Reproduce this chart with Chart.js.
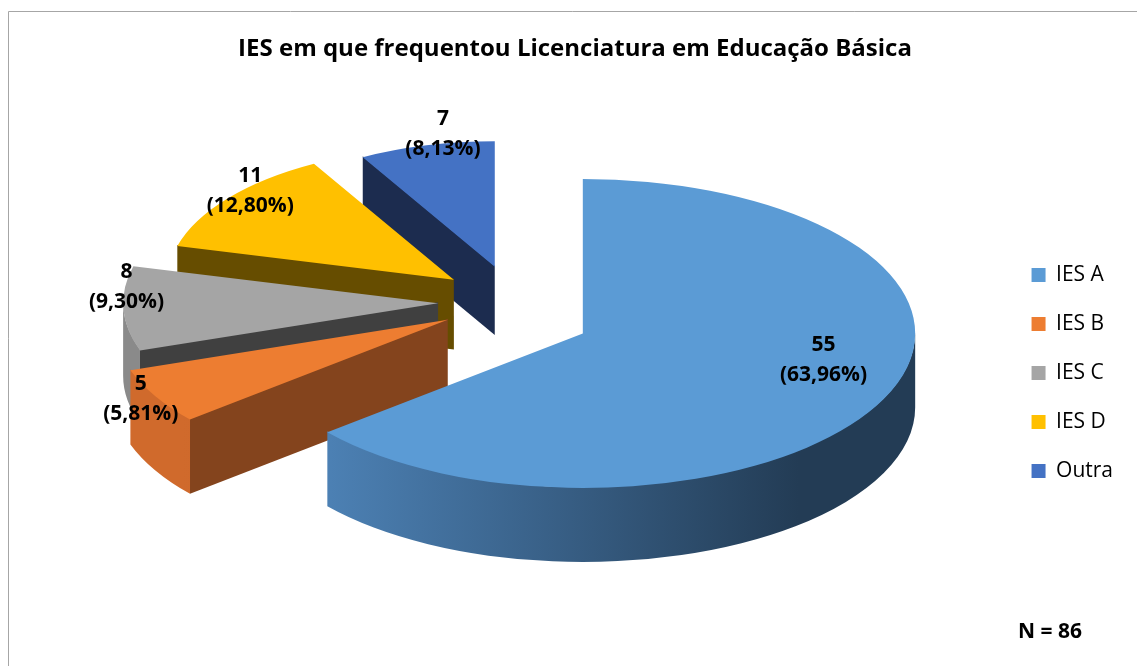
<!DOCTYPE html>
<html><head><meta charset="utf-8">
<script src="https://cdn.jsdelivr.net/npm/chart.js@4.4.0/dist/chart.umd.min.js"></script>
<style>html,body{margin:0;padding:0;background:#fff;}#wrap{width:1137px;height:666px;}</style>
</head><body><div id="wrap"><canvas id="c" width="1137" height="666"></canvas></div>
<script>
// ---- data ----
const categories = ['IES A', 'IES B', 'IES C', 'IES D', 'Outra'];
const counts = [55, 5, 8, 11, 7];
const pctLabels = ['63,96%', '5,81%', '9,30%', '12,80%', '8,13%'];
const titleText = 'IES em que frequentou Licenciatura em Educação Básica';

// ---- style ----
const topColors = ['#5B9BD5', '#ED7D31', '#A5A5A5', '#FFC000', '#4472C4'];
const radialWall = ['#253F5A', '#84441D', '#404040', '#664D00', '#1C2C4F'];
const outerFrom = ['#4D82B6', '#D06A2C', '#8A8A8A', '#D4A000', '#34579A'];
const outerTo = ['#233C55', '#BE5F25', '#6E6E6E', '#A88000', '#223A66'];
const labelDist = [0.8, 1.05, 0.99, 0.9, 0.76];
const labelLift = [-10, -1, -22, -16, -40];
const FONT = '"Open Sans", Lato, sans-serif';
const PIE = {cx: 514, cy: 302, explode: 76, explodeK: 0.48, rx: 333, faceK: 0.465,
  perspRefY: 318, perspRate: 0.0037, depthBase: 44, depthScale: 30, frontDrop: 16};

function frontRanges(s, e) {
  const out = [];
  [[0, Math.PI], [2 * Math.PI, 3 * Math.PI]].forEach(([a, b]) => {
    const lo = Math.max(s, a), hi = Math.min(e, b);
    if (hi - lo > 1e-4) out.push([lo, hi]);
  });
  return out;
}
function pt(it, a, d) { return [it.fx + it.rx * Math.cos(a), it.fy + it.ry * Math.sin(a) + (d || 0)]; }

function drawWalls(ctx, it) {
  const i = it.i;
  const edges = [];
  if (Math.cos(it.startAngle) < -0.02) edges.push(it.startAngle);
  if (Math.cos(it.endAngle) > 0.02) edges.push(it.endAngle);
  edges.forEach(a => {
    const p = pt(it, a, -1), q = pt(it, a, it.depth);
    ctx.beginPath();
    ctx.moveTo(it.fx, it.fy - 1);
    ctx.lineTo(p[0], p[1]);
    ctx.lineTo(q[0], q[1]);
    ctx.lineTo(it.fx, it.fy + it.depth);
    ctx.closePath();
    ctx.fillStyle = radialWall[i];
    ctx.fill();
  });
  frontRanges(it.startAngle, it.endAngle).forEach(([a1, a2]) => {
    const g = ctx.createLinearGradient(it.fx - it.rx * 0.8, 0, it.fx + it.rx * 0.65, 0);
    g.addColorStop(0, outerFrom[i]);
    g.addColorStop(1, outerTo[i]);
    ctx.beginPath();
    ctx.ellipse(it.fx, it.fy - 1, it.rx, it.ry, 0, a1, a2, false);
    ctx.ellipse(it.fx, it.fy + it.depth, it.rx, it.ry, 0, a2, a1, true);
    ctx.closePath();
    ctx.fillStyle = g;
    ctx.fill();
  });
}
function drawTop(ctx, it) {
  ctx.save();
  ctx.translate(it.fx, it.fy);
  const sc = it.rx / it.outerRadius;
  ctx.scale(sc, sc * PIE.faceK);
  ctx.translate(-it.x, -it.y);
  it.arc.draw(ctx);
  ctx.restore();
}

const pie3d = {
  id: 'pie3d',
  beforeDatasetsDraw(chart) {
    const ctx = chart.ctx;
    const meta = chart.getDatasetMeta(0);
    const items = meta.data.map((arc, i) => {
      const p = arc.getProps(['x', 'y', 'startAngle', 'endAngle', 'outerRadius'], true);
      const mid = (p.startAngle + p.endAngle) / 2;
      const ax = PIE.cx + PIE.explode * Math.cos(mid);
      const ay = PIE.cy + PIE.explode * PIE.explodeK * Math.sin(mid);
      const s = 1 + (ay - PIE.perspRefY) * PIE.perspRate;
      const rx = PIE.rx * s, ry = rx * PIE.faceK;
      const depth = PIE.depthBase + PIE.depthScale * s;
      const front = p.startAngle <= Math.PI / 2 && p.endAngle >= Math.PI / 2;
      const fx = ax, fy = ay + (front ? PIE.frontDrop : 0);
      let maxY = fy;
      for (let t = 0; t <= 24; t++) {
        const a = p.startAngle + (p.endAngle - p.startAngle) * t / 24;
        maxY = Math.max(maxY, fy + ry * Math.sin(a));
      }
      return Object.assign({arc, i, mid, ax, ay, fx, fy, rx, ry, depth, maxY}, p);
    });
    chart.$pie3d = items;
    items.slice().sort((a, b) => a.maxY - b.maxY).forEach(it => { drawWalls(ctx, it); drawTop(ctx, it); });
    return false;
  },
  afterDraw(chart) {
    const ctx = chart.ctx;
    const items = chart.$pie3d || [];
    ctx.save();
    ctx.fillStyle = '#000';
    ctx.textAlign = 'center';
    ctx.textBaseline = 'middle';
    ctx.font = 'bold 21px ' + FONT;
    items.forEach(it => {
      const f = labelDist[it.i];
      const lx = it.ax + f * it.rx * Math.cos(it.mid);
      const ly = it.ay + f * it.ry * Math.sin(it.mid) + labelLift[it.i];
      ctx.fillText(String(counts[it.i]), lx, ly - 15);
      ctx.fillText('(' + pctLabels[it.i] + ')', lx, ly + 15);
    });
    const total = counts.reduce((a, b) => a + b, 0);
    ctx.fillText('N = ' + total, 1050, 632);
    ctx.strokeStyle = '#A6A6A6';
    ctx.lineWidth = 1;
    ctx.beginPath();
    ctx.moveTo(8.5, 666);
    ctx.lineTo(8.5, 11.5);
    ctx.lineTo(1137, 11.5);
    ctx.stroke();
    ctx.restore();
  }
};

new Chart(document.getElementById('c'), {
  type: 'pie',
  data: {
    labels: categories,
    datasets: [{data: counts, backgroundColor: topColors, borderWidth: 0, offset: 0, hoverOffset: 0}]
  },
  options: {
    responsive: false,
    devicePixelRatio: 1,
    animation: false,
    events: [],
    layout: {padding: {left: 27, right: 14, top: 0, bottom: 0}},
    plugins: {
      title: {display: true, text: titleText, color: '#000',
        font: {family: FONT, size: 24, weight: 'bold'}, padding: {top: 35, bottom: 16}},
      legend: {position: 'right', fullSize: false,
        labels: {boxWidth: 14, boxHeight: 14, color: '#000', padding: 28,
          font: {family: FONT, size: 21}}},
      tooltip: {enabled: false}
    }
  },
  plugins: [pie3d]
});
</script></body></html>
